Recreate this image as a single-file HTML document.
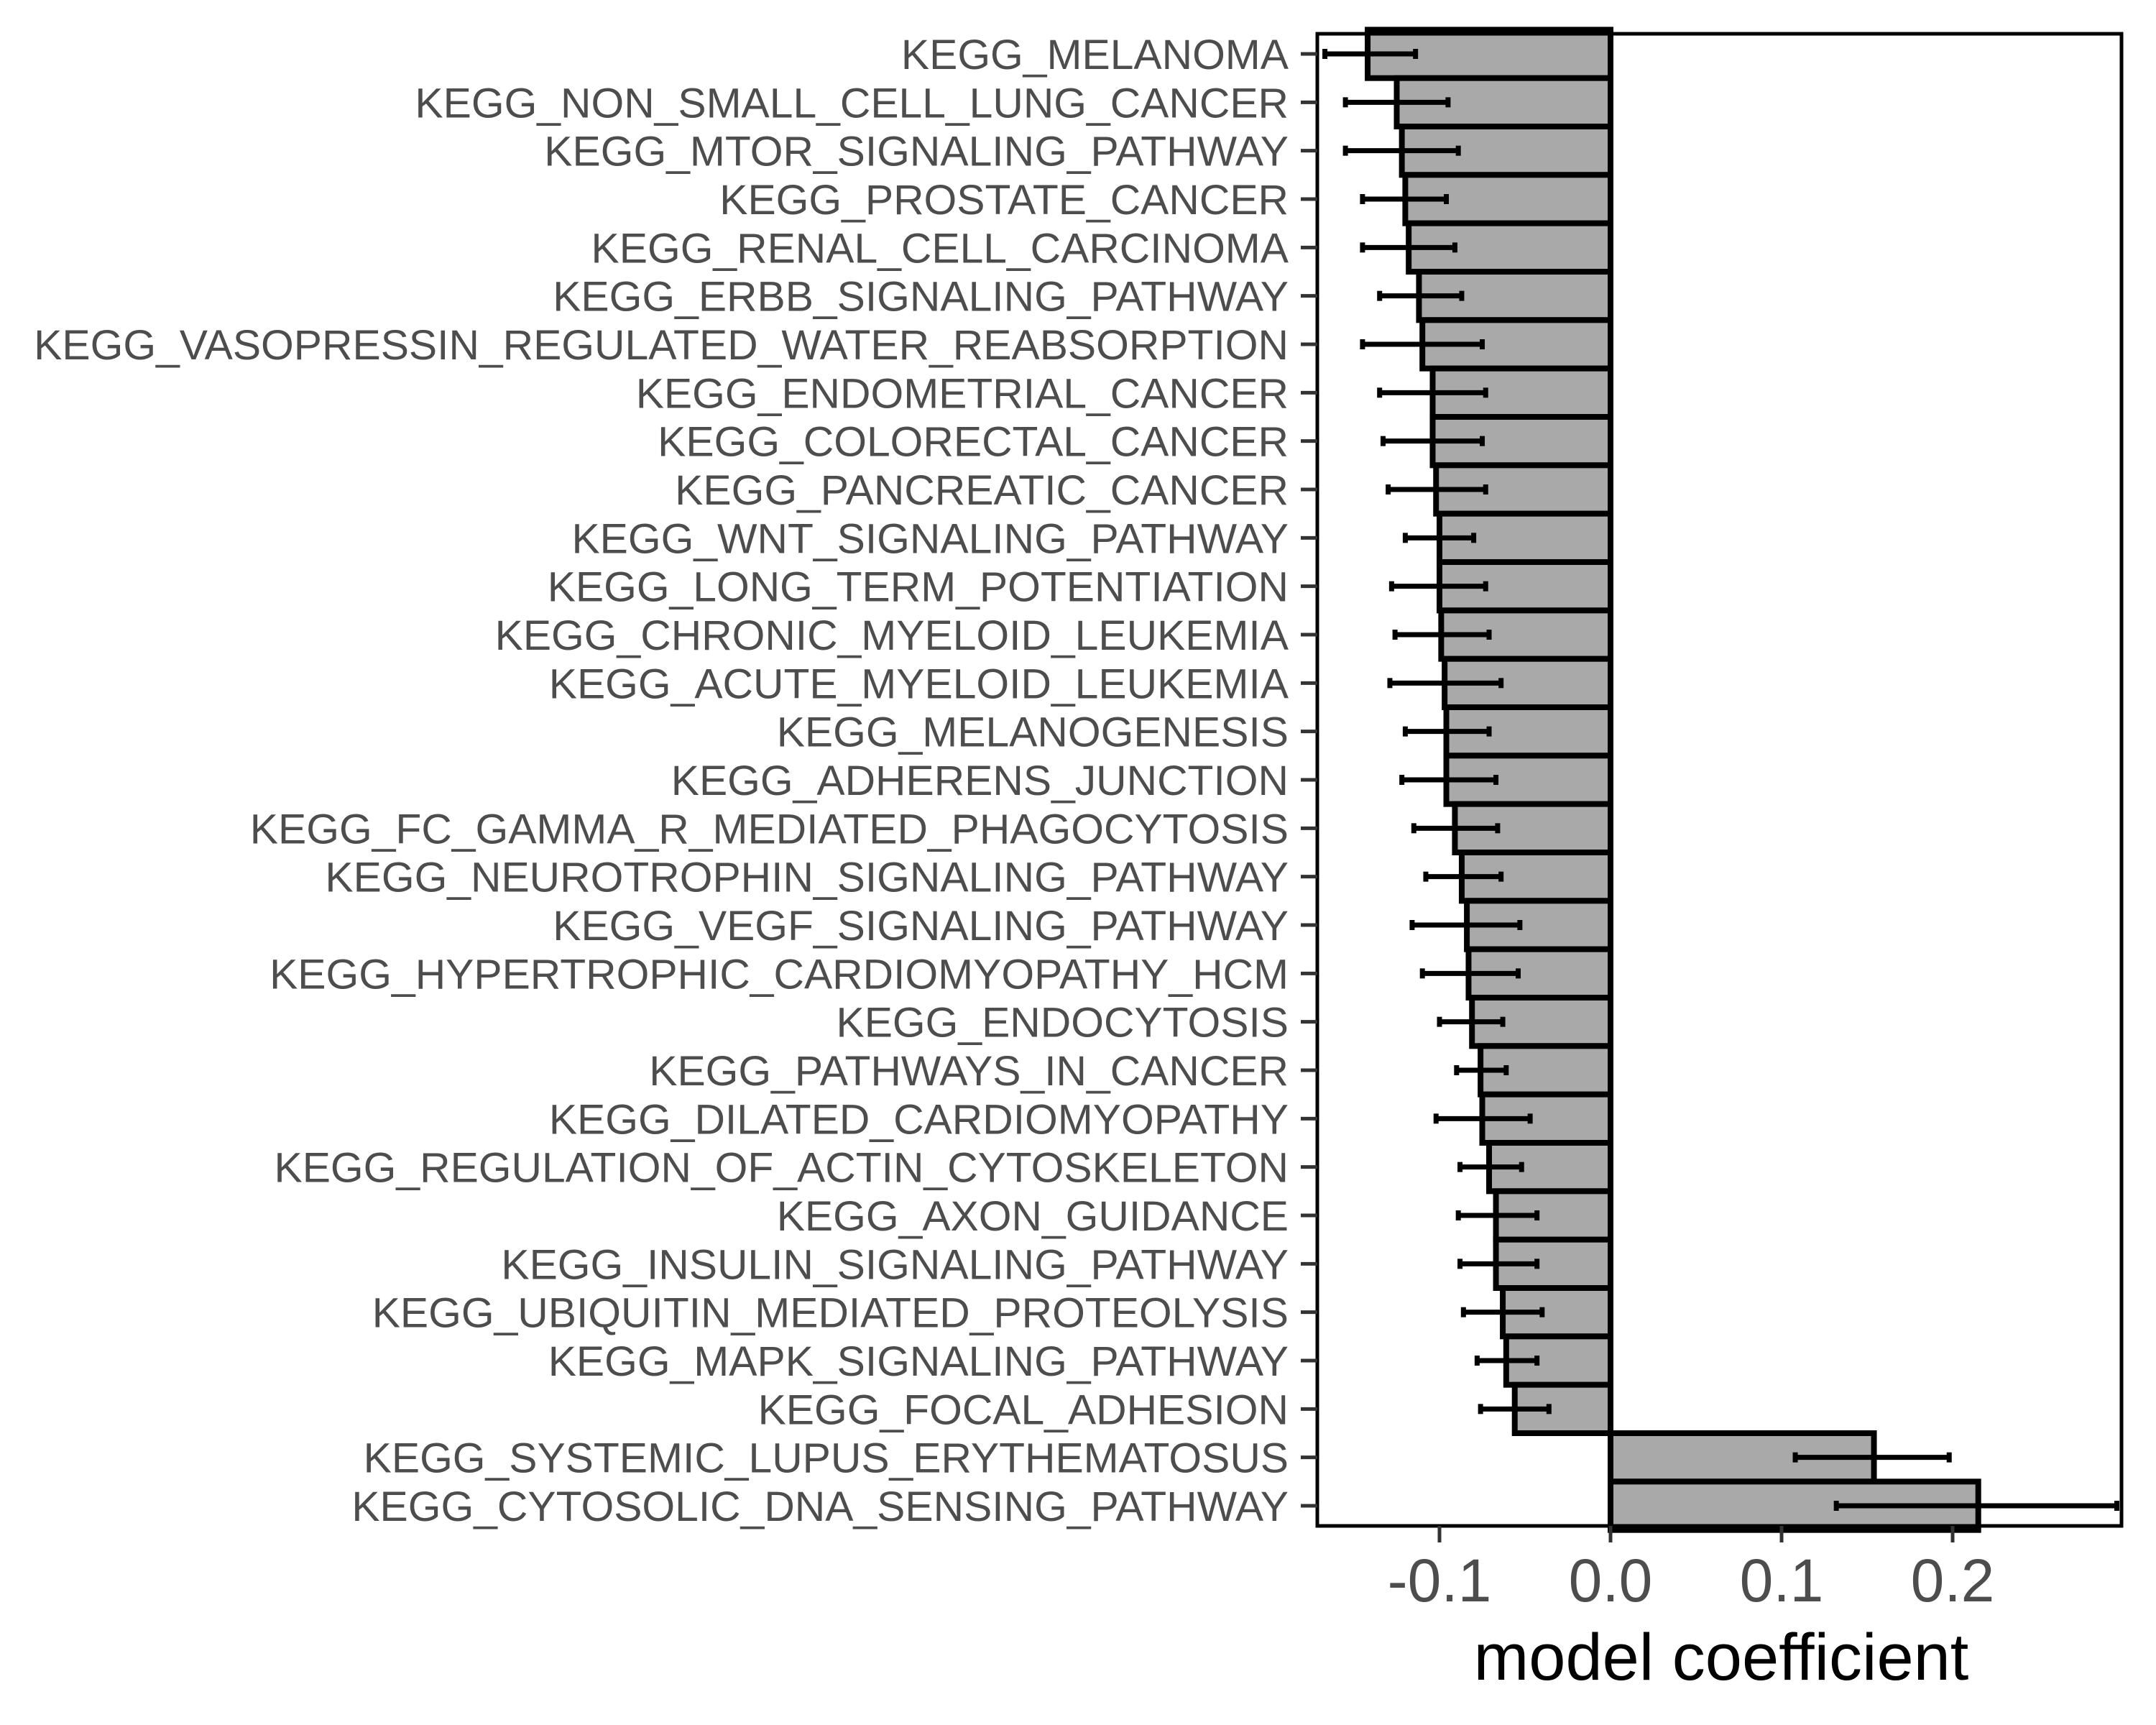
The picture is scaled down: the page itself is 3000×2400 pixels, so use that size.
<!DOCTYPE html>
<html><head><meta charset="utf-8"><style>
html,body{margin:0;padding:0;background:#fff;}
svg{display:block;}
</style></head><body>
<svg id="chart" width="3000" height="2400" viewBox="0 0 3000 2400" xmlns="http://www.w3.org/2000/svg"></svg>
<script>
const categories = ["KEGG_MELANOMA","KEGG_NON_SMALL_CELL_LUNG_CANCER","KEGG_MTOR_SIGNALING_PATHWAY","KEGG_PROSTATE_CANCER","KEGG_RENAL_CELL_CARCINOMA","KEGG_ERBB_SIGNALING_PATHWAY","KEGG_VASOPRESSIN_REGULATED_WATER_REABSORPTION","KEGG_ENDOMETRIAL_CANCER","KEGG_COLORECTAL_CANCER","KEGG_PANCREATIC_CANCER","KEGG_WNT_SIGNALING_PATHWAY","KEGG_LONG_TERM_POTENTIATION","KEGG_CHRONIC_MYELOID_LEUKEMIA","KEGG_ACUTE_MYELOID_LEUKEMIA","KEGG_MELANOGENESIS","KEGG_ADHERENS_JUNCTION","KEGG_FC_GAMMA_R_MEDIATED_PHAGOCYTOSIS","KEGG_NEUROTROPHIN_SIGNALING_PATHWAY","KEGG_VEGF_SIGNALING_PATHWAY","KEGG_HYPERTROPHIC_CARDIOMYOPATHY_HCM","KEGG_ENDOCYTOSIS","KEGG_PATHWAYS_IN_CANCER","KEGG_DILATED_CARDIOMYOPATHY","KEGG_REGULATION_OF_ACTIN_CYTOSKELETON","KEGG_AXON_GUIDANCE","KEGG_INSULIN_SIGNALING_PATHWAY","KEGG_UBIQUITIN_MEDIATED_PROTEOLYSIS","KEGG_MAPK_SIGNALING_PATHWAY","KEGG_FOCAL_ADHESION","KEGG_SYSTEMIC_LUPUS_ERYTHEMATOSUS","KEGG_CYTOSOLIC_DNA_SENSING_PATHWAY"];
const coefs = [-0.142,-0.125,-0.122,-0.120,-0.118,-0.112,-0.110,-0.104,-0.104,-0.102,-0.100,-0.100,-0.099,-0.097,-0.096,-0.096,-0.091,-0.087,-0.084,-0.083,-0.081,-0.076,-0.075,-0.071,-0.067,-0.067,-0.063,-0.061,-0.056,0.154,0.215];
const errLow = [-0.167,-0.155,-0.155,-0.145,-0.145,-0.135,-0.145,-0.135,-0.133,-0.130,-0.120,-0.128,-0.126,-0.129,-0.120,-0.122,-0.115,-0.108,-0.116,-0.110,-0.100,-0.090,-0.102,-0.088,-0.089,-0.088,-0.086,-0.078,-0.076,0.108,0.132];
const errHigh = [-0.114,-0.095,-0.089,-0.096,-0.091,-0.087,-0.075,-0.073,-0.075,-0.073,-0.080,-0.073,-0.071,-0.064,-0.071,-0.067,-0.066,-0.064,-0.053,-0.054,-0.063,-0.061,-0.047,-0.052,-0.043,-0.043,-0.040,-0.043,-0.036,0.198,0.296];
const xTicks = [-0.1,0.0,0.1,0.2];
const xTickLabels = ["-0.1","0.0","0.1","0.2"];

const NS="http://www.w3.org/2000/svg";
const svg=document.getElementById('chart');
const P={l:1833,r:2952,t:47,b:2123};
const x0=2241, xUnit=2380;
const xs=v=>x0+v*xUnit;
const rowStep=(2095-75)/(categories.length-1);
const ys=i=>75+i*rowStep;
function el(tag,attrs,parent){const e=document.createElementNS(NS,tag);for(const k in attrs)e.setAttribute(k,attrs[k]);(parent||svg).appendChild(e);return e;}

const panel=el('g',{});


el('rect',{x:P.l,y:P.t,width:P.r-P.l,height:P.b-P.t,fill:'#fff'},panel);

const bars=el('g',{});


categories.forEach((c,i)=>{
  const a=xs(0), b=xs(coefs[i]);
  const r=el('rect',{x:Math.min(a,b),y:ys(i)-rowStep/2,width:Math.abs(b-a),height:rowStep,fill:'#A9A9A9',stroke:'#000','stroke-width':8},bars);
  
  
});
const errs=el('g',{});


categories.forEach((c,i)=>{
  const y=ys(i), x1=xs(errLow[i]), x2=xs(errHigh[i]);
  const g=el('g',{stroke:'#000','stroke-width':7},errs);
  
  
  el('line',{x1:x1,x2:x2,y1:y,y2:y},g);
  el('line',{x1:x1,x2:x1,y1:y-7,y2:y+7},g);
  el('line',{x1:x2,x2:x2,y1:y-7,y2:y+7},g);
});
const border=el('rect',{x:P.l,y:P.t,width:P.r-P.l,height:P.b-P.t,fill:'none',stroke:'#000','stroke-width':5});



const yAxis=el('g',{});


categories.forEach((c,i)=>{
  const y=ys(i);
  el('line',{x1:P.l-23,x2:P.l,y1:y,y2:y,stroke:'#333','stroke-width':5},yAxis);
  const t=el('text',{x:1793,y:y+21,'text-anchor':'end','font-family':'Liberation Sans, sans-serif','font-size':58.8,fill:'#4D4D4D'},yAxis);
  t.textContent=c;
  
  
});
const xAxis=el('g',{});


xTicks.forEach((v,i)=>{
  const x=xs(v);
  el('line',{x1:x,x2:x,y1:P.b,y2:P.b+23,stroke:'#333','stroke-width':5},xAxis);
  const t=el('text',{x:x,y:2228,'text-anchor':'middle','font-family':'Liberation Sans, sans-serif','font-size':84,fill:'#4D4D4D'},xAxis);
  t.textContent=xTickLabels[i];
  
  
});
const title=el('text',{x:2395,y:2337,'text-anchor':'middle','font-family':'Liberation Sans, sans-serif','font-size':92,fill:'#000'});
title.textContent='model coefficient';


</script>
</body></html>
